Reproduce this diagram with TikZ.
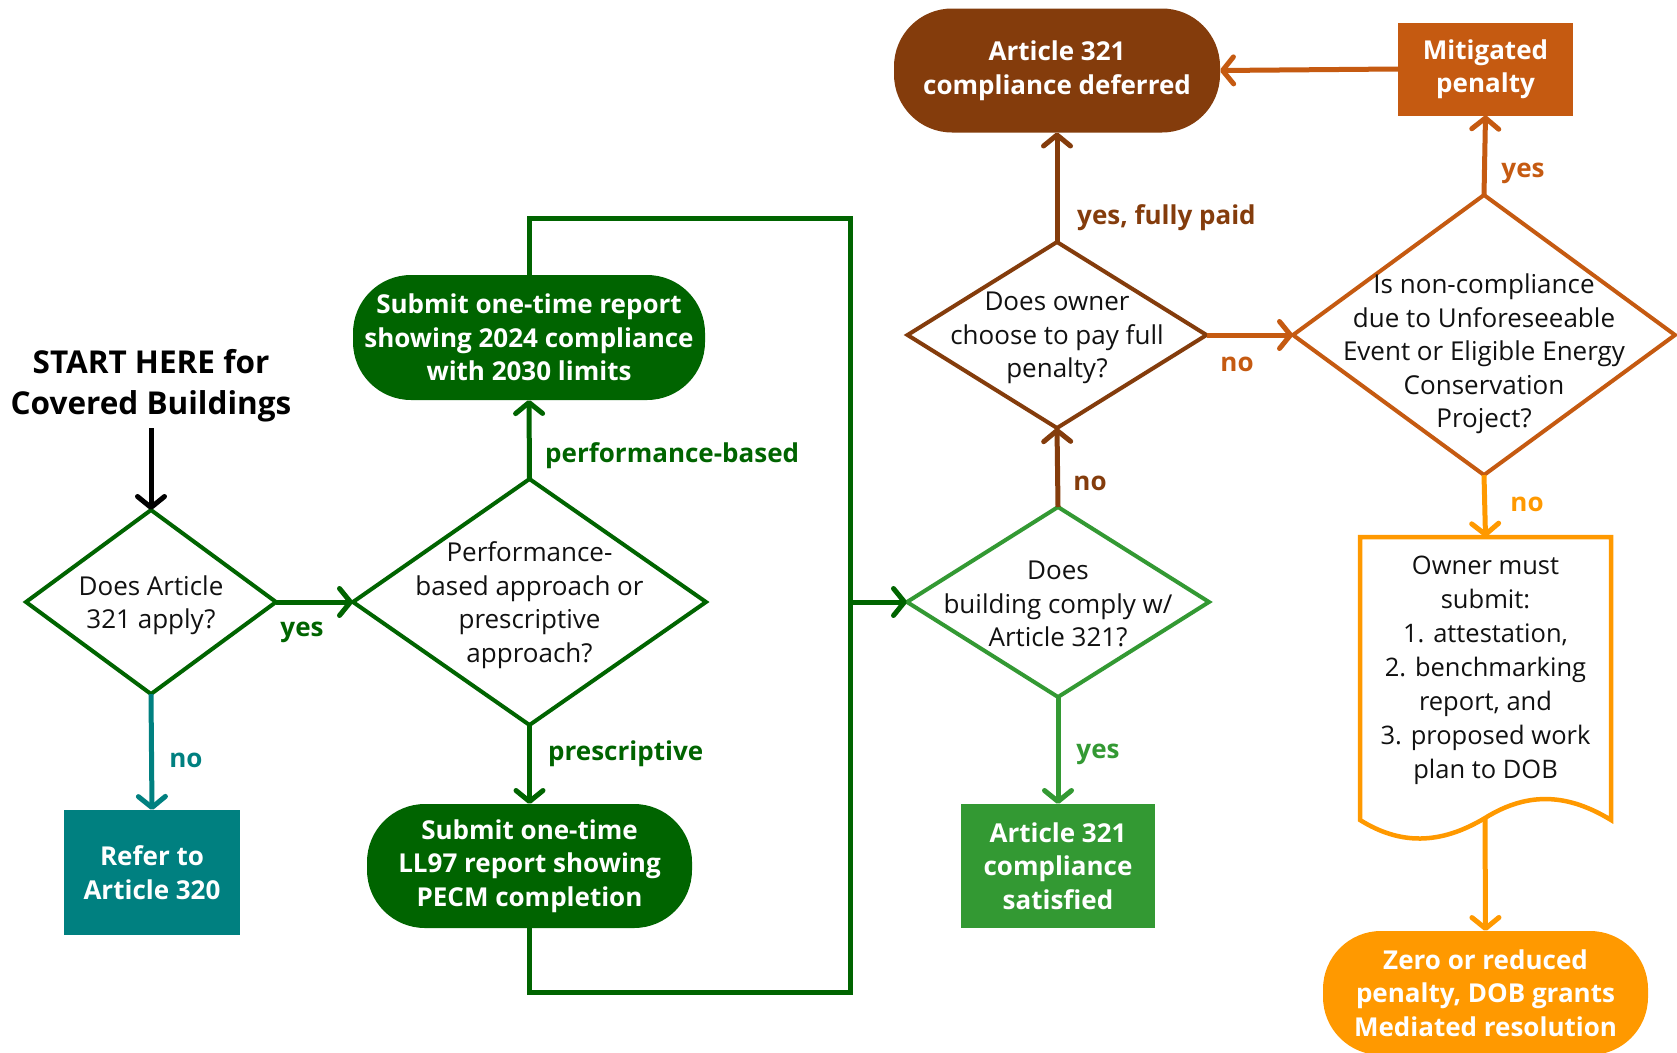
\documentclass[tikz,border=0pt]{standalone}
\usepackage{fontspec}
\setmainfont{Open Sans}
\usetikzlibrary{arrows.meta,shapes.geometric}
\definecolor{dgreen}{RGB}{0,100,0}
\definecolor{mgreen}{RGB}{51,153,51}
\definecolor{tealc}{RGB}{0,128,128}
\definecolor{brownc}{RGB}{132,60,12}
\definecolor{obrown}{RGB}{197,90,17}
\definecolor{orangec}{RGB}{255,153,0}
\definecolor{txtc}{RGB}{17,17,17}
\begin{document}
\begin{tikzpicture}[x=1pt,y=-1pt,
  conn/.style={line width=5pt,-{Straight Barb[length=11pt,width=27pt,round]}},
  plainline/.style={line width=5pt,line join=miter},
  dia/.style={shape=diamond,draw,line width=4pt,fill=white,inner sep=0pt,outer sep=0pt},
  dtxt/.style={align=center,text=txtc,font=\fontsize{26}{33.5}\selectfont,inner sep=0pt},
  term/.style={rectangle,rounded corners=58pt,inner sep=0pt,outer sep=0pt,align=center,text=white,font=\bfseries\fontsize{26}{33.5}\selectfont},
  sqbox/.style={rectangle,inner sep=0pt,outer sep=0pt,align=center,text=white,font=\bfseries\fontsize{26}{33.5}\selectfont},
  lab/.style={font=\bfseries\fontsize{26}{30}\selectfont,inner sep=0pt},
]
\clip (0,0) rectangle (1677,1052);
\fill[white] (0,0) rectangle (1677,1052);

% ---------- start ----------
\node[align=center,font=\bfseries\fontsize{31.5}{41}\selectfont,text=black,inner sep=0pt] (st) at (151,386) {START HERE for\\Covered Buildings};
\coordinate (s0) at (151,428);

% ---------- diamonds ----------
\node[dia,draw=dgreen,minimum width=250pt,minimum height=184pt] (d1) at (151,602) {};
\node[dtxt] (d1t) at (151,605) {Does Article\\321 apply?};

\node[dia,draw=dgreen,minimum width=353pt,minimum height=246pt] (d2) at (529.5,602) {};
\node[dtxt] (d2t) at (529.5,605) {Performance-\\based approach or\\prescriptive\\approach?};

\node[dia,draw=mgreen,minimum width=302pt,minimum height=190pt] (d3) at (1058,602) {};
\node[dtxt] (d3t) at (1058,604) {Does\\building comply w/\\Article 321?};

\node[dia,draw=brownc,minimum width=299pt,minimum height=186pt] (d4) at (1057,335) {};
\node[dtxt] (d4t) at (1057,338) {Does owner\\choose to pay full\\penalty?};

\node[dia,draw=obrown,minimum width=382pt,minimum height=280pt] (d5) at (1484,335) {};
\node[dtxt] (d5t) at (1484,354) {Is non-compliance\\due to Unforeseeable\\Event or Eligible Energy\\Conservation\\Project?};

% ---------- terminals and boxes ----------
\node[term,fill=dgreen,minimum width=352pt,minimum height=125pt] (top) at (529,337.5) {Submit one-time report\\showing 2024 compliance\\with 2030 limits};
\node[term,fill=dgreen,minimum width=325pt,minimum height=124pt] (bot) at (529.5,866) {Submit one-time\\LL97 report showing\\PECM completion};
\node[sqbox,fill=tealc,minimum width=176pt,minimum height=125pt] (refer) at (152,872.5) {Refer to\\Article 320};
\node[sqbox,fill=mgreen,minimum width=194pt,minimum height=124pt] (sat) at (1058,866) {Article 321\\compliance\\satisfied};
\node[term,fill=brownc,minimum width=326pt,minimum height=124pt] (def) at (1057,70.5) {Article 321\\compliance deferred};
\node[sqbox,fill=obrown,minimum width=175pt,minimum height=93pt] (mit) at (1485.5,69) {Mitigated\\penalty};
\node[term,fill=orangec,minimum width=325pt,minimum height=124pt] (fin) at (1485.5,993) {Zero or reduced\\penalty, DOB grants\\Mediated resolution};

% ---------- document shape ----------
\node[rectangle,inner sep=0pt,outer sep=0pt,minimum width=251pt,minimum height=283pt] (doc) at (1485.5,678.5) {};
\draw[orangec,line width=4.5pt,line join=miter,fill=white]
  (1360,820) -- (doc.north west) -- (doc.north east) -- (1611,820)
  .. controls (1570,795) and (1530,790) .. (1485,818)
  .. controls (1440,845) and (1400,845) .. (1360,820) -- cycle;
\node[dtxt,font=\fontsize{25.5}{34}\selectfont] (doct) at (1485.5,670) {Owner must\\submit:\\1. attestation,\\2. benchmarking\\report, and\\3. proposed work\\plan to DOB};
\coordinate (docb) at (1485,818);

% ---------- connectors ----------
\draw[conn,black] (s0) -- (d1.north);
\draw[conn,dgreen] (d1.east) -- (d2.west);
\draw[conn,tealc] (d1.south) -- (refer.north);
\draw[conn,dgreen] (d2.north) -- (top.south);
\draw[conn,dgreen] (d2.south) -- (bot.north);
\coordinate (lt) at (850,218);
\coordinate (lb) at (850,992.5);
\coordinate (j) at (850,602);
\draw[plainline,dgreen] (top.north) |- (lt) -- (lb) -| (bot.south);
\draw[conn,dgreen] (j) -- (d3.west);
\draw[conn,mgreen] (d3.south) -- (sat.north);
\draw[conn,brownc] (d3.north) -- (d4.south);
\draw[conn,brownc] (d4.north) -- (def.south);
\draw[conn,obrown] (d4.east) -- (d5.west);
\draw[conn,obrown] (d5.north) -- (mit.south);
\draw[conn,obrown] (mit.west) -- (def.east);
\draw[conn,orangec] (d5.south) -- (doc.north);
\draw[conn,orangec] (docb) -- (fin.north);

% ---------- labels ----------
\node[lab,text=dgreen] (l1) at (302,632) {yes};
\node[lab,text=tealc] (l2) at (186,760) {no};
\node[lab,text=dgreen,anchor=west] (l3) at (545,456) {performance-based};
\node[lab,text=dgreen,anchor=west] (l4) at (548,754) {prescriptive};
\node[lab,text=mgreen] (l5) at (1098,754) {yes};
\node[lab,text=brownc] (l6) at (1090,483) {no};
\node[lab,text=brownc,anchor=west] (l7) at (1077,218) {yes, fully paid};
\node[lab,text=obrown] (l8) at (1237,364) {no};
\node[lab,text=obrown] (l9) at (1523,173) {yes};
\node[lab,text=orangec] (l10) at (1527,504) {no};
\end{tikzpicture}
\end{document}
